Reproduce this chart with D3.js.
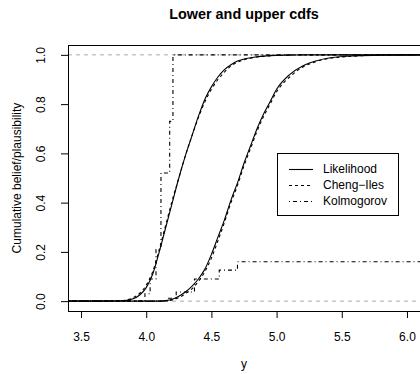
<!DOCTYPE html>
<html>
<head>
<meta charset="utf-8">
<script src="https://cdn.jsdelivr.net/npm/d3@7"></script>
<style>
  body { margin: 0; background: #fff; }
  svg { display: block; font-family: "Liberation Sans", Arial, sans-serif; }
  .line { fill: none; stroke: #000; stroke-width: 1.1; }
</style>
</head>
<body>
<svg id="chart" width="420" height="374"></svg>
<script>
// grid of y values the curves were read at
const gridY = [3.4, 3.8, 3.9, 3.95, 4.0, 4.05, 4.1, 4.15, 4.2, 4.25, 4.3, 4.35, 4.4, 4.45, 4.5, 4.55, 4.6, 4.65, 4.7, 4.75, 4.8, 4.85, 4.9, 4.95, 5.0, 5.1, 5.2, 5.3, 5.4, 5.6, 5.8, 6.1];

// likelihood based upper / lower cdfs
const likUpper = [0, 0.001, 0.01, 0.025, 0.055, 0.11, 0.2, 0.3, 0.4, 0.5, 0.59, 0.67, 0.75, 0.82, 0.87, 0.91, 0.94, 0.96, 0.975, 0.983, 0.988, 0.992, 0.995, 0.997, 0.998, 0.999, 1, 1, 1, 1, 1, 1];
const likLower = [0, 0, 0, 0, 0, 0, 0, 0.002, 0.008, 0.02, 0.037, 0.06, 0.09, 0.13, 0.19, 0.26, 0.33, 0.41, 0.48, 0.56, 0.63, 0.7, 0.76, 0.81, 0.86, 0.92, 0.955, 0.975, 0.987, 0.996, 0.999, 1];

// Cheng-Iles bands, a little wider than the likelihood ones
const ciUpper = [0, 0.002, 0.014, 0.032, 0.065, 0.12, 0.21, 0.31, 0.41, 0.5, 0.59, 0.67, 0.745, 0.81, 0.86, 0.9, 0.93, 0.955, 0.97, 0.98, 0.986, 0.991, 0.994, 0.996, 0.998, 0.999, 1, 1, 1, 1, 1, 1];
const ciLower = [0, 0, 0, 0, 0, 0, 0, 0.001, 0.005, 0.014, 0.03, 0.05, 0.08, 0.12, 0.175, 0.245, 0.32, 0.4, 0.47, 0.55, 0.62, 0.69, 0.75, 0.8, 0.85, 0.91, 0.95, 0.972, 0.985, 0.995, 0.999, 1];

// Kolmogorov step bands
const kolUpX = [3.4, 3.99, 4.03, 4.075, 4.113, 4.18, 4.205, 6.1];
const kolUpV = [0, 0.03, 0.09, 0.21, 0.52, 0.73, 1, 1];
const kolLoX = [3.4, 4.16, 4.23, 4.37, 4.56, 4.7, 6.1];
const kolLoV = [0, 0.012, 0.037, 0.09, 0.126, 0.16, 0.16];

const xTicks = [3.5, 4.0, 4.5, 5.0, 5.5, 6.0];
const yTicks = [0, 0.2, 0.4, 0.6, 0.8, 1.0];
const legendNames = ["Likelihood", "Cheng\u2212Iles", "Kolmogorov"];
const legendDash = [null, "3,3", "1,3,4,3"];

const svg = d3.select("#chart");
const mLeft = 68, mRight = 420, mTop = 45, mBottom = 311;

const x = d3.scaleLinear().domain([3.4, 6.1]).range([mLeft, mRight]);
const y = d3.scaleLinear().domain([-0.04, 1.04]).range([mBottom, mTop]);

svg.append("rect").attr("width", 420).attr("height", 374).attr("fill", "#fff");

// title
svg.append("text")
  .attr("x", (mLeft + mRight) / 2).attr("y", 19)
  .attr("text-anchor", "middle")
  .attr("font-size", 14.4).attr("font-weight", "bold")
  .text("Lower and upper cdfs");

// reference lines at 0 and 1
svg.selectAll(".ref").data([0, 1]).join("line")
  .attr("class", "ref")
  .attr("x1", mLeft).attr("x2", mRight)
  .attr("y1", d => y(d)).attr("y2", d => y(d))
  .attr("stroke", "#aaa").attr("stroke-dasharray", "4,4");

const pts = (xs, vs) => xs.map((d, i) => [d, vs[i]]);

const smooth = d3.line().curve(d3.curveMonotoneX)
  .x(d => x(d[0])).y(d => y(d[1]));
const step = d3.line().curve(d3.curveStepAfter)
  .x(d => x(d[0])).y(d => y(d[1]));

const g = svg.append("g");
[likUpper, likLower].forEach(v => {
  g.append("path").datum(pts(gridY, v)).attr("class", "line").attr("d", smooth);
});
[ciUpper, ciLower].forEach(v => {
  g.append("path").datum(pts(gridY, v)).attr("class", "line")
    .attr("stroke-dasharray", legendDash[1]).attr("d", smooth);
});
g.append("path").datum(pts(kolUpX, kolUpV)).attr("class", "line")
  .attr("stroke-dasharray", legendDash[2]).attr("d", step);
g.append("path").datum(pts(kolLoX, kolLoV)).attr("class", "line")
  .attr("stroke-dasharray", legendDash[2]).attr("d", step);

// box
svg.append("rect")
  .attr("x", mLeft + 0.5).attr("y", mTop + 0.5)
  .attr("width", mRight - mLeft).attr("height", mBottom - mTop)
  .attr("fill", "none").attr("stroke", "#000");

// axes
const xAxis = d3.axisBottom(x).tickValues(xTicks).tickSize(7).tickFormat(d3.format(".1f"));
const yAxis = d3.axisLeft(y).tickValues(yTicks).tickSize(7).tickFormat(d3.format(".1f"));

const customXAxis = (gg) => {
  gg.call(xAxis);
  gg.select(".domain").attr("d", `M${x(xTicks[0])},0.5H${x(xTicks[xTicks.length - 1])}`);
  gg.selectAll(".tick text").attr("font-size", 12).attr("fill", "#000").attr("y", 21).attr("dy", "0.71em");
  gg.selectAll(".tick line").attr("stroke", "#000");
};
const customYAxis = (gg) => {
  gg.call(yAxis);
  gg.select(".domain").attr("d", `M0.5,${y(0)}V${y(1)}`);
  gg.selectAll(".tick line").attr("stroke", "#000");
  gg.selectAll(".tick text")
    .attr("font-size", 12).attr("fill", "#000")
    .attr("x", 0).attr("dy", 0)
    .attr("text-anchor", "middle")
    .attr("transform", "translate(-23,0) rotate(-90)");
};

svg.append("g").attr("transform", `translate(0,${mBottom})`).call(customXAxis);
svg.append("g").attr("transform", `translate(${mLeft},0)`).call(customYAxis);

// axis titles
svg.append("text")
  .attr("x", (mLeft + mRight) / 2).attr("y", 368)
  .attr("text-anchor", "middle").attr("font-size", 12)
  .text("y");
svg.append("text")
  .attr("transform", `translate(21,${(mTop + mBottom) / 2}) rotate(-90)`)
  .attr("text-anchor", "middle").attr("font-size", 12)
  .text("Cumulative belief/plausibility");

// legend
const lg = svg.append("g");
lg.append("rect")
  .attr("x", 277.5).attr("y", 153.5).attr("width", 121).attr("height", 62)
  .attr("fill", "#fff").attr("stroke", "#000");
legendNames.forEach((name, i) => {
  const yy = 169 + i * 16;
  lg.append("line")
    .attr("x1", 289).attr("x2", 313).attr("y1", yy + 0.5).attr("y2", yy + 0.5)
    .attr("stroke", "#000").attr("stroke-width", 1.1)
    .attr("stroke-dasharray", legendDash[i]);
  lg.append("text")
    .attr("x", 323).attr("y", yy).attr("dy", "0.35em")
    .attr("font-size", 12)
    .text(name);
});
</script>
</body>
</html>
